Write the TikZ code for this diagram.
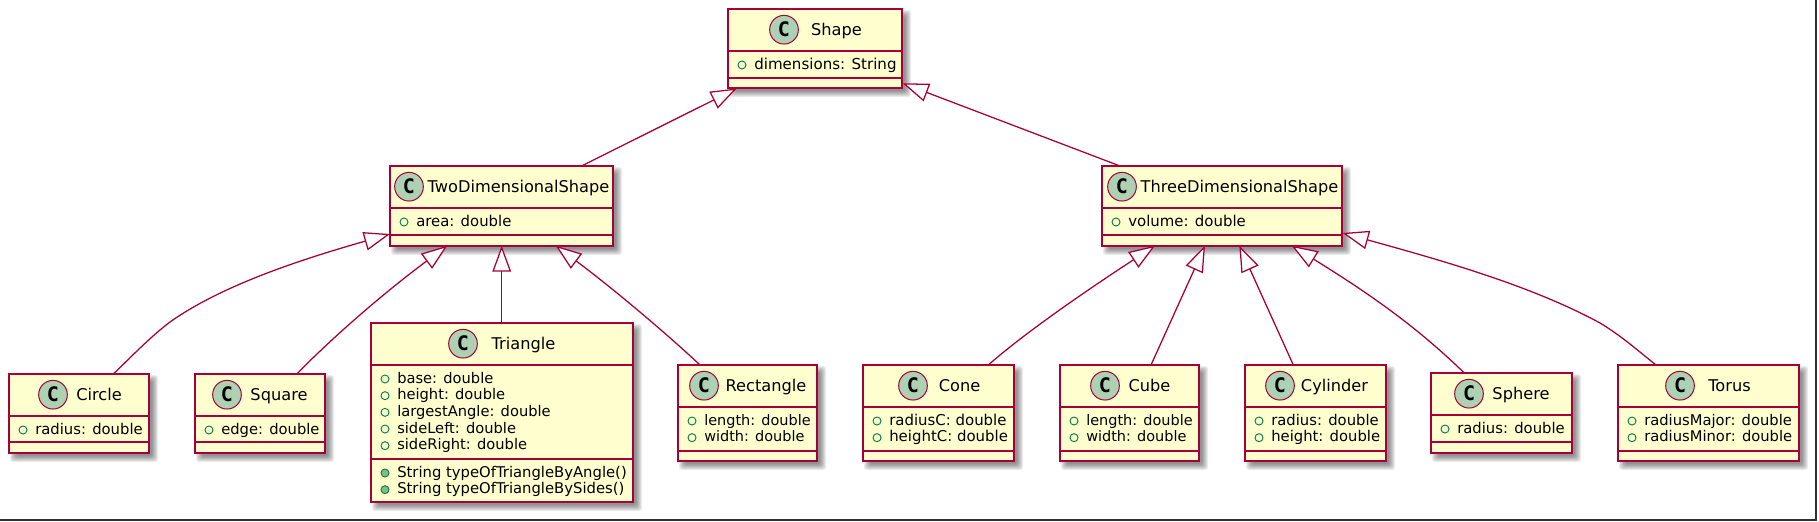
\documentclass[tikz,border=0pt]{standalone}
\usepackage{fontspec}
\setmainfont{DejaVu Sans}
\newfontfamily\spotfont{DejaVu Sans Mono}
\usetikzlibrary{arrows.meta,calc}
\definecolor{umlred}{HTML}{A80036}
\definecolor{umlfill}{HTML}{FEFECE}
\definecolor{umlspot}{HTML}{ADD1B2}
\definecolor{umlgreen}{HTML}{038048}
\definecolor{umlgreenfill}{HTML}{84BE84}
\definecolor{frameline}{HTML}{303030}
\tikzset{
  x=0.75pt,y=-0.75pt,
  umlbox/.style={draw=umlred,fill=umlfill,line width=1.4pt,inner sep=0pt,outer sep=0pt},
  umlrule/.style={draw=umlred,line width=1.05pt},
  umlspotnode/.style={circle,draw=umlred,fill=umlspot,line width=0.75pt,minimum size=21.5pt,inner sep=0pt,
    font=\spotfont\bfseries\fontsize{15pt}{16pt}\selectfont,text=black},
  umltitle/.style={anchor=base,inner sep=0pt,font=\fontsize{12.15pt}{14pt}\selectfont,text=black},
  umlattr/.style={anchor=base west,inner sep=0pt,text=black},
  umlvis/.style={circle,draw=umlgreen,line width=0.7pt,minimum size=6pt,inner sep=0pt},
  umlvisf/.style={umlvis,fill=umlgreenfill},
  umlshade/.style={fill=black,fill opacity=0.075,draw=none,rounded corners=2pt},
  inherit/.style={draw=umlred,line width=0.95pt,
    -{Triangle[open,length=19.5pt,width=14pt,fill=white]}},
}
% id, title, x1, y1, x2, y2, spot x, title x, second rule y
\newcommand{\umlclass}[9]{
  \foreach \k in {-2,-1,0,1,2,3,4}
    \path[umlshade] ({#3+5-\k},{#4+5-\k}) rectangle ({#5+5+\k},{#6+5+\k});
  \node[umlbox,minimum width={(#5-#3)*0.75pt},minimum height={(#6-#4)*0.75pt}]
    (#1) at ({(#3+#5)/2},{(#4+#6)/2}) {};
  \node[umlspotnode] (#1-spot) at (#7,{#4+20.7}) {C};
  \node[umltitle] (#1-title) at (#8,{#4+26.5}) {#2};
  \draw[umlrule] (#3,{#4+42}) -- (#5,{#4+42});
  \draw[umlrule] (#3,#9) -- (#5,#9);
}
% font size (pt), id, x1, first baseline, list
\newcommand{\umlattrs}[5]{
  \foreach \t [count=\i] in {#5} {
    \node[umlvis] (#2-vis\i) at ({#3+14},{#4+16.67*(\i-1)-4}) {};
    \node[umlattr,font=\fontsize{#1pt}{13pt}\selectfont] (#2-attr\i) at ({#3+26},{#4+16.67*(\i-1)}) {\t};
  }
}
\newcommand{\umlmeths}[5]{
  \foreach \t [count=\i] in {#5} {
    \node[umlvisf] (#2-mvis\i) at ({#3+14},{#4+16.67*(\i-1)-4}) {};
    \node[umlattr,font=\fontsize{#1pt}{13pt}\selectfont] (#2-meth\i) at ({#3+26},{#4+16.67*(\i-1)}) {\t};
  }
}
\begin{document}
\begin{tikzpicture}
\path[fill=white] (0,0) rectangle (1819,521);
\useasboundingbox (0,0) rectangle (1819,521);
\draw[frameline,line width=1.2pt] (1816,0) -- (1816,520) -- (0,520);

\umlclass{shape}{Shape}{728}{9}{902}{88}{784}{836.5}{78}
\umlattrs{11.3}{shape}{728}{69}{dimensions: String}
\umlclass{twod}{TwoDimensionalShape}{390}{166}{613}{246}{409}{518.5}{235}
\umlattrs{11.15}{twod}{390}{226}{area: double}
\umlclass{threed}{ThreeDimensionalShape}{1102}{166}{1342}{246}{1122}{1239.5}{235}
\umlattrs{11.2}{threed}{1102}{226}{volume: double}
\umlclass{circ}{Circle}{9}{374}{149}{453}{53}{99}{442}
\umlattrs{11.1}{circ}{9}{434}{radius: double}
\umlclass{square}{Square}{195}{374}{325}{453}{227}{279}{442}
\umlattrs{11.05}{square}{195}{434}{edge: double}
\umlclass{tri}{Triangle}{371}{323}{633}{502}{463}{523.5}{459}
\umlattrs{11}{tri}{371}{383}{base: double,height: double,largestAngle: double,sideLeft: double,sideRight: double}
\umlmeths{11.1}{tri}{371}{477}{String typeOfTriangleByAngle(),String typeOfTriangleBySides()}
\umlclass{rect}{Rectangle}{678}{365}{817}{461}{704}{766}{451}
\umlattrs{10.85}{rect}{678}{425}{length: double,width: double}
\umlclass{cone}{Cone}{863}{365}{1014}{461}{913}{959.5}{451}
\umlattrs{11.2}{cone}{863}{425}{radiusC: double,heightC: double}
\umlclass{cube}{Cube}{1060}{365}{1199}{461}{1105}{1149.5}{451}
\umlattrs{10.85}{cube}{1060}{425}{length: double,width: double}
\umlclass{cyl}{Cylinder}{1245}{365}{1386}{461}{1280}{1334.5}{451}
\umlattrs{11.1}{cyl}{1245}{425}{radius: double,height: double}
\umlclass{sphere}{Sphere}{1431}{373}{1572}{453}{1469}{1521}{442}
\umlattrs{11.1}{sphere}{1431}{433}{radius: double}
\umlclass{torus}{Torus}{1618}{365}{1799}{461}{1680}{1729.5}{451}
\umlattrs{11.05}{torus}{1618}{425}{radiusMajor: double,radiusMinor: double}

% connectors: child to parent
\draw[inherit] ($(twod.north west)+(191.5,0)$) -- ($(shape.south west)+(8.7,0.5)$);
\draw[inherit] ($(threed.north west)+(18,0)$) -- ($(shape.south east)+(0.7,-4.7)$);

\draw[inherit] ($(circ.north west)+(104.3,0)$) .. controls (127,361) and (150,337) .. (170,322)
   .. controls (225,283) and (310,257) .. ($(twod.south west)+(0,-12)$);
\draw[inherit] ($(square.north west)+(101.7,0)$) .. controls (335,335) and (385,292) .. ($(twod.south west)+(57.3,-0.3)$);
\draw[inherit] ($(tri.north west)+(130.7,0)$) -- ($(twod.south west)+(111.7,-0.3)$);
\draw[inherit] ($(rect.north west)+(22,0)$) .. controls (668,335) and (615,290) .. ($(twod.south west)+(165.7,-0.3)$);

\draw[inherit] ($(cone.north west)+(125.3,0)$) .. controls (1020,337) and (1075,298) .. ($(threed.south west)+(53,-0.3)$);
\draw[inherit] ($(cube.north west)+(91,0)$) -- ($(threed.south west)+(103,-0.3)$);
\draw[inherit] ($(cyl.north west)+(48.3,0)$) -- ($(threed.south west)+(137.3,-0.3)$);
\draw[inherit] ($(sphere.north west)+(33.3,0)$) .. controls (1420,330) and (1375,297) .. ($(threed.south west)+(189.7,-0.3)$);
\draw[inherit] ($(torus.north west)+(38,0)$) .. controls (1636,349) and (1620,335) .. (1600,323)
   .. controls (1530,285) and (1440,260) .. ($(threed.south east)+(0.7,-13)$);
\end{tikzpicture}
\end{document}
